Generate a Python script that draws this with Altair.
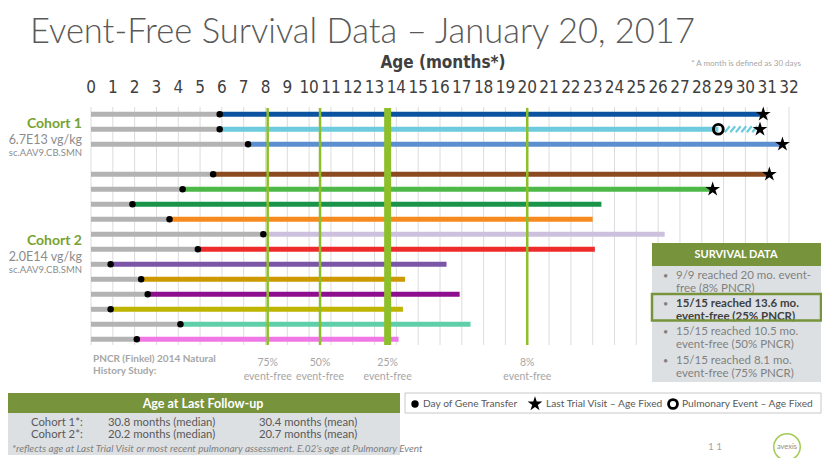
import altair as alt
import pandas as pd

# ---------------- data ----------------
months = list(range(33))
row_slots = [0, 1, 2, 4, 5, 6, 7, 8, 9, 10, 11, 12, 13, 14, 15]
gene_transfer_age = [5.9, 5.9, 7.2, 5.6, 4.2, 1.9, 3.6, 7.9, 4.9, 0.9, 2.3, 2.6, 0.9, 4.1, 2.1]
event_free_age = [30.82, 28.76, 31.7, 31.1, 28.5, 23.4, 23.0, 26.3, 23.1, 16.3, 14.4, 16.9, 14.3, 17.4, 14.1]
row_colors = ["#0B52A0", "#6DCBDD", "#5B8FD0", "#8B4A1F", "#4DB848", "#1A9448", "#F58A1F",
              "#CDBFDE", "#EE2B2B", "#7B55A6", "#CC9A00", "#8E0F8E", "#BDB500", "#5FCFAA", "#EF77E6"]
star_slots = [0, 1, 2, 4, 5]
star_ages = [30.82, 30.67, 31.7, 31.1, 28.5]
pulmonary_slot = [1]
pulmonary_age = [28.76]
hatch_slot = 1
hatch_from, hatch_to = 28.76, 30.67
pncr_months = [8.1, 10.5, 13.6, 20.0]
pncr_labels = ["75%", "50%", "25%", "8%"]

# ---------------- layout helpers ----------------
OX, OY = 91, 107          # page position of plot origin
W, H = 698, 238


def X(p):
    return p - OX


def Y(p):
    return p - OY


FONT = "Lato, 'Open Sans', sans-serif"
NARROW = "'Liberation Sans Narrow', 'DejaVu Sans Condensed', Roboto, sans-serif"
one = pd.DataFrame({"k": [0]})

xs = alt.Scale(domain=[0, 32], nice=False, zero=False)
ys = alt.Scale(domain=[-0.487, 15.38], reverse=True, nice=False, zero=False)


def txt(s, px, py, size, color, weight="normal", align="left", style="normal",
        font=FONT, baseline="middle"):
    return alt.Chart(one).mark_text(
        text=s, fontSize=size, color=color, fontWeight=weight, align=align,
        fontStyle=style, font=font, baseline=baseline
    ).encode(x=alt.value(X(px)), y=alt.value(Y(py)))


def box(x1, x2, y1, y2, fill, stroke=None, sw=0):
    kw = dict(fill=fill)
    if stroke:
        kw.update(stroke=stroke, strokeWidth=sw)
    return alt.Chart(one).mark_rect(**kw).encode(
        x=alt.value(X(x1)), x2=alt.value(X(x2)), y=alt.value(Y(y1)), y2=alt.value(Y(y2)))


# ---------------- tables ----------------
bars = pd.DataFrame({
    "slot": row_slots, "dose": gene_transfer_age, "end": event_free_age,
    "color": row_colors, "origin": [0] * len(row_slots)})
stars = pd.DataFrame({"slot": star_slots, "age": star_ages})
pulm = pd.DataFrame({"slot": pulmonary_slot, "age": pulmonary_age})
grid = pd.DataFrame({"m": months})
pncr = pd.DataFrame({"m": pncr_months, "lab": pncr_labels})

n_stripes = 6
step = (hatch_to - 0.35 - (hatch_from + 0.3)) / (n_stripes - 1)
hatch = pd.DataFrame({
    "a": [hatch_from + 0.3 + i * step for i in range(n_stripes)],
})
hatch["b"] = hatch["a"] + 0.22
hatch["y1"] = hatch_slot + 0.2
hatch["y2"] = hatch_slot - 0.2

STAR = ("M0,-1L0.2245,-0.309L0.9511,-0.309L0.3633,0.118L0.5878,0.809L0,0.382"
        "L-0.5878,0.809L-0.3633,0.118L-0.9511,-0.309L-0.2245,-0.309Z")

GREEN = "#8DBF2A"
HEAD = "#77933C"
BODY = "#DDE0E3"

layers = []

# grid
layers.append(alt.Chart(grid).mark_rule(color="#DCDCDC", strokeWidth=1).encode(
    x=alt.X("m:Q", scale=xs, axis=None), y=alt.value(0), y2=alt.value(H)))
# tick labels
layers.append(alt.Chart(grid).mark_text(font=NARROW, fontSize=17, color="#404040",
                                        baseline="middle").encode(
    x=alt.X("m:Q", scale=xs, axis=None), y=alt.value(Y(88)), text=alt.Text("m:Q", format="d")))

# gray (pre gene transfer) bars
layers.append(alt.Chart(bars).mark_rule(color="#B3B3B3", strokeWidth=5, strokeCap="butt").encode(
    x=alt.X("origin:Q", scale=xs, axis=None), x2="dose:Q",
    y=alt.Y("slot:Q", scale=ys, axis=None)))
# coloured bars
layers.append(alt.Chart(bars).mark_rule(strokeWidth=5, strokeCap="butt").encode(
    x=alt.X("dose:Q", scale=xs, axis=None), x2="end:Q",
    y=alt.Y("slot:Q", scale=ys, axis=None),
    color=alt.Color("color:N", scale=None)))
# hatch
layers.append(alt.Chart(hatch).mark_rule(color="#6DCBDD", strokeWidth=2.2).encode(
    x=alt.X("a:Q", scale=xs, axis=None), x2="b:Q",
    y=alt.Y("y1:Q", scale=ys, axis=None), y2="y2:Q"))

# PNCR green lines
layers.append(alt.Chart(pncr).transform_filter("datum.m != 13.6").mark_rule(
    color=GREEN, strokeWidth=2.5).encode(
    x=alt.X("m:Q", scale=xs, axis=None), y=alt.value(1), y2=alt.value(H)))
layers.append(alt.Chart(pncr).transform_filter("datum.m == 13.6").mark_rule(
    color=GREEN, strokeWidth=7).encode(
    x=alt.X("m:Q", scale=xs, axis=None), y=alt.value(1), y2=alt.value(H)))
layers.append(alt.Chart(pncr).mark_text(font=FONT, fontSize=10.5, color="#A6A6A6").encode(
    x=alt.X("m:Q", scale=xs, axis=None), y=alt.value(Y(362.5)), text="lab:N"))
layers.append(alt.Chart(pncr).mark_text(font=FONT, fontSize=10.5, color="#A6A6A6",
                                        text="event-free").encode(
    x=alt.X("m:Q", scale=xs, axis=None), y=alt.value(Y(376.5))))

# dose dots
layers.append(alt.Chart(bars).mark_circle(color="black", size=42, opacity=1).encode(
    x=alt.X("dose:Q", scale=xs, axis=None), y=alt.Y("slot:Q", scale=ys, axis=None)))
# stars
layers.append(alt.Chart(stars).mark_point(shape=STAR, filled=True, color="black",
                                          size=240, opacity=1).encode(
    x=alt.X("age:Q", scale=xs, axis=None), y=alt.Y("slot:Q", scale=ys, axis=None)))
# pulmonary event
layers.append(alt.Chart(pulm).mark_point(shape="circle", filled=False, color="black",
                                         strokeWidth=2.8, size=95, opacity=1).encode(
    x=alt.X("age:Q", scale=xs, axis=None), y=alt.Y("slot:Q", scale=ys, axis=None)))

# ---------------- texts ----------------
layers.append(txt("Event-Free Survival Data \u2013 January 20, 2017", 30, 43, 34.5, "#595959",
                  weight=300, baseline="alphabetic"))
layers.append(txt("Age (months*)", 443, 63, 17, "#404040", weight="bold", align="center",
                  font=NARROW))
layers.append(txt("* A month is defined as 30 days", 801, 64, 8, "#A6A6A6", align="right"))

GL = "#77A22F"
layers.append(txt("Cohort 1", 82, 124, 14, GL, weight="bold", align="right"))
layers.append(txt("6.7E13 vg/kg", 82, 139.5, 12.5, "#8C8C8C", align="right"))
layers.append(txt("sc.AAV9.CB.SMN", 82, 153, 9.5, "#8C8C8C", align="right"))
layers.append(txt("Cohort 2", 82, 241, 14, GL, weight="bold", align="right"))
layers.append(txt("2.0E14 vg/kg", 82, 256.5, 12.5, "#8C8C8C", align="right"))
layers.append(txt("sc.AAV9.CB.SMN", 82, 269.5, 9.5, "#8C8C8C", align="right"))

layers.append(txt("PNCR (Finkel) 2014 Natural", 93, 358.5, 10, "#A6A6A6", weight="bold"))
layers.append(txt("History Study:", 93, 370.5, 10, "#A6A6A6", weight="bold"))

# survival data box
layers.append(box(652, 821, 243, 266, HEAD))
layers.append(box(652, 821, 266, 382, BODY))
layers.append(txt("SURVIVAL DATA", 736, 254.5, 11, "white", weight="bold", align="center"))
surv = [("9/9 reached 20 mo. event-", "free (8% PNCR)", 276, "#808080", "normal"),
        ("15/15 reached 13.6 mo.", "event-free (25% PNCR)", 304, "#404040", "bold"),
        ("15/15 reached 10.5 mo.", "event-free (50% PNCR)", 332, "#808080", "normal"),
        ("15/15 reached 8.1 mo.", "event-free (75% PNCR)", 360.5, "#808080", "normal")]
for l1, l2, yy, c, w in surv:
    layers.append(txt("\u2022", 663, yy, 9, "#808080"))
    layers.append(txt(l1, 676, yy, 11.5, c, weight=w))
    layers.append(txt(l2, 676, yy + 13, 11.5, c, weight=w))
layers.append(alt.Chart(one).mark_rect(fill=None, stroke="#77933C", strokeWidth=2.5).encode(
    x=alt.value(X(652)), x2=alt.value(X(821)), y=alt.value(Y(294)), y2=alt.value(Y(320.5))))

# age at last follow-up box
layers.append(box(5, 400, 393, 413, HEAD))
layers.append(box(5, 400, 413, 455, BODY))
layers.append(txt("Age at Last Follow-up", 203, 403.5, 12.5, "white", weight="bold",
                  align="center"))
for lab, med, mean, yy in [("Cohort 1*:", "30.8 months (median)", "30.4 months (mean)", 422.5),
                           ("Cohort 2*:", "20.2 months (median)", "20.7 months (mean)", 435)]:
    layers.append(txt(lab, 31, yy, 11.3, "#595959"))
    layers.append(txt(med, 108, yy, 11.3, "#595959"))
    layers.append(txt(mean, 259, yy, 11.3, "#595959"))
layers.append(txt("*reflects age at Last Trial Visit or most recent pulmonary assessment. "
                  "E.02\u2019s age at Pulmonary Event", 12, 448.5, 10, "#7F7F7F",
                  style="italic"))

# legend box
layers.append(box(405, 821, 393, 413, "white", stroke="#C8C8C8", sw=1))
layers.append(alt.Chart(one).mark_point(shape="circle", filled=True, color="black",
                                        size=55, opacity=1).encode(
    x=alt.value(X(415)), y=alt.value(Y(404))))
layers.append(txt("Day of Gene Transfer", 423, 404, 10.2, "#595959"))
layers.append(alt.Chart(one).mark_point(shape=STAR, filled=True, color="black",
                                        size=240, opacity=1).encode(
    x=alt.value(X(535)), y=alt.value(Y(404))))
layers.append(txt("Last Trial Visit \u2013 Age Fixed", 546, 404, 10.2, "#595959"))
layers.append(alt.Chart(one).mark_point(shape="circle", filled=False, color="black",
                                        strokeWidth=2.8, size=80, opacity=1).encode(
    x=alt.value(X(673)), y=alt.value(Y(404))))
layers.append(txt("Pulmonary Event \u2013 Age Fixed", 682, 404, 10.2, "#595959"))

# page number and logo
layers.append(txt("1 1", 715, 447, 10, "#A6A6A6", align="center"))
layers.append(alt.Chart(one).mark_point(shape="circle", filled=False, color=GREEN,
                                        strokeWidth=1.5, size=700, opacity=0.8).encode(
    x=alt.value(X(787)), y=alt.value(Y(447))))
layers.append(txt("avexis", 787, 447, 7.5, "#8C8C8C", align="center"))

chart = alt.layer(*layers).properties(
    width=W, height=H,
    padding={"left": 83, "top": 99, "right": 33, "bottom": 113},
    autosize=alt.AutoSizeParams(type="none"),
    background="white",
).configure_view(stroke=None)

chart.save("out.html", embed_options={"renderer": "svg", "actions": False})
